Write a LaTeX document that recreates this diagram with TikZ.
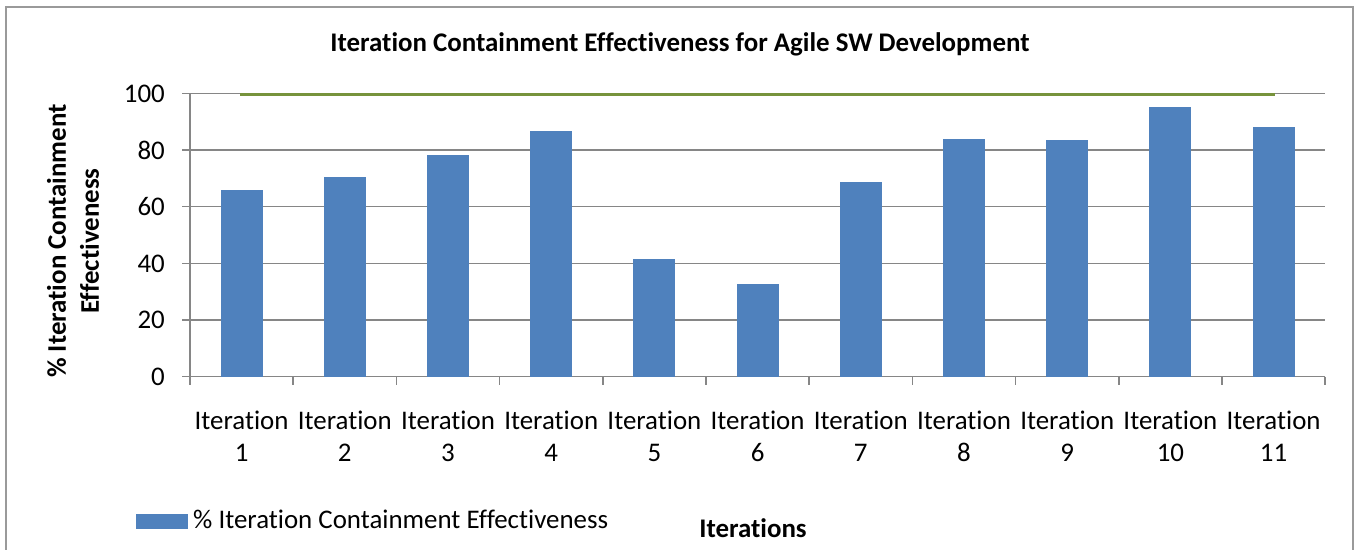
\documentclass[tikz,border=0pt]{standalone}
\usepackage{fontspec}
\setmainfont{Carlito}[Ligatures=NoCommon]
\definecolor{barblue}{HTML}{4F81BD}
\definecolor{goalgreen}{HTML}{77933C}
\definecolor{axisgray}{HTML}{868686}
\definecolor{framegray}{HTML}{9A9A9A}
\newcommand{\lblfont}{\fontsize{27}{32}\selectfont}
\newcommand{\ttlfont}{\fontsize{27}{33}\selectfont\bfseries}
\begin{document}
\begin{tikzpicture}[x=1bp, y=-1bp,
  gridline/.style={draw=axisgray, line width=1.5bp},
  barbox/.style={fill=barblue, draw=none},
  goal/.style={draw=goalgreen, line width=3.2bp},
  ticklabel/.style={font=\lblfont, anchor=east, inner sep=0pt},
  catlabel/.style={font=\lblfont, align=center, anchor=north, inner sep=0pt},
  boldlabel/.style={font=\ttlfont, inner sep=0pt},
  framebox/.style={draw=framegray, line width=2bp}
]
\useasboundingbox (0,0) rectangle (1359,550);
\fill[white] (0,0) rectangle (1359,550);

% chart frame (runs past the lower edge)
\draw[framebox] (6,570) -- (6,7) -- (1353,7) -- (1353,570);

% plot geometry: y of value v is 376.7 - 2.833 v ; category width 103.2
\def\yzero{376.7}
\def\yscl{2.833}
\def\xzero{190}
\def\cw{103.2}

% horizontal gridlines and value labels
\foreach \v [count=\i] in {0,20,40,60,80,100} {
  \draw[gridline] (182,{\yzero-\yscl*\v}) -- (1325.3,{\yzero-\yscl*\v});
  \node[ticklabel] (yt\i) at (165,{\yzero-\yscl*\v}) {\v};
}

% bars
\foreach \v [count=\k] in {65.9,70.5,78.3,86.7,41.5,32.7,68.7,83.9,83.5,95.2,88.1} {
  \fill[barbox] ({\xzero+\cw*(\k-0.5)-21},\yzero) rectangle ({\xzero+\cw*(\k-0.5)+21},{\yzero-\yscl*\v});
}

% value axis and category ticks
\draw[gridline] (\xzero,{\yzero-\yscl*100}) -- (\xzero,385);
\foreach \k in {1,...,11} {
  \draw[gridline] ({\xzero+\cw*\k},\yzero) -- ({\xzero+\cw*\k},385);
}

% target line at 100 %
\coordinate (g1) at ({\xzero+\cw*0.5-1.5},{\yzero-\yscl*100+1.3});
\coordinate (g11) at ({\xzero+\cw*10.5+1.5},{\yzero-\yscl*100+1.3});
\draw[goal] (g1) -- (g11);

% category labels
\foreach \k in {1,...,11} {
  \node[catlabel] (cat\k) at ({\xzero+\cw*(\k-0.5)},411) {Iteration\\\k};
}

% titles
\node[boldlabel, anchor=base] (title) at (680,52) {Iteration Containment Effectiveness for Agile SW Development};
\node[boldlabel, align=center, rotate=90] (ytitle) at (73,241) {\% Iteration Containment\\Effectiveness};
\node[boldlabel, anchor=base] (xtitle) at (753,537) {Iterations};

% legend
\fill[barbox] (136,514) rectangle (188,529);
\node[font=\lblfont, anchor=base west, inner sep=0pt] (legend) at (193,528) {\% Iteration Containment Effectiveness};
\end{tikzpicture}
\end{document}
